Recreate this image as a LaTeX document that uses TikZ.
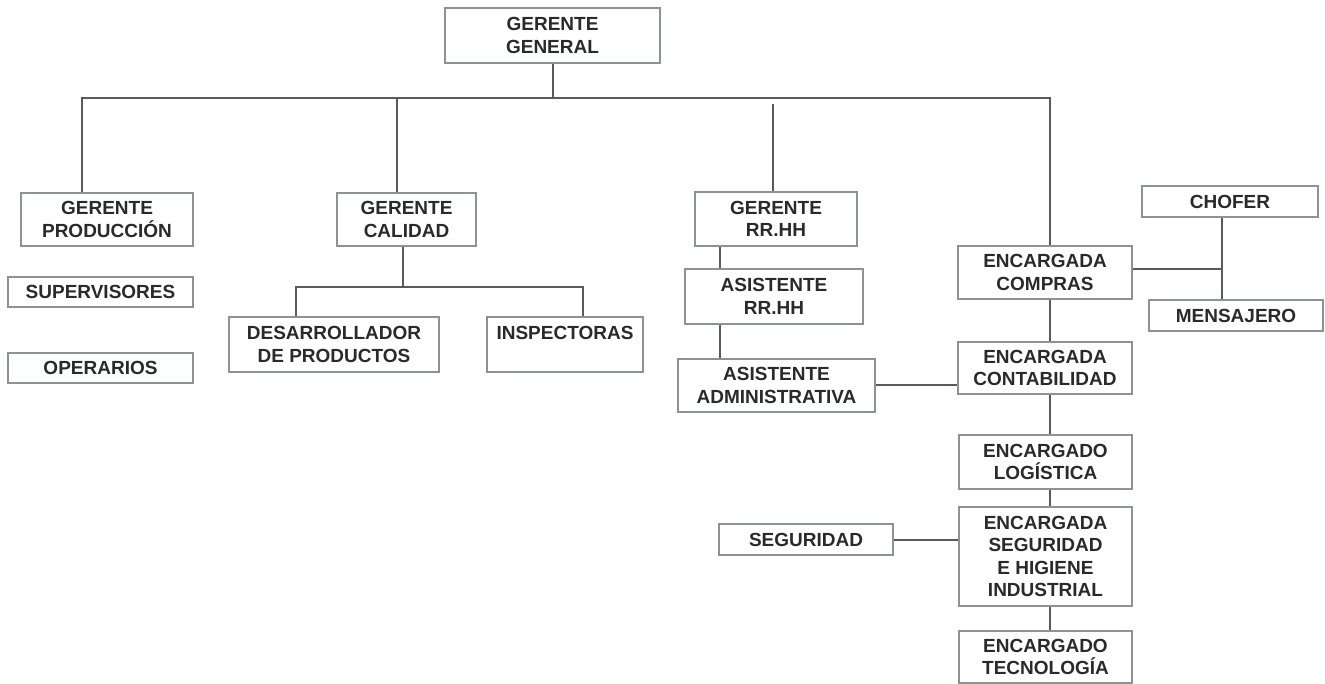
\documentclass[tikz,border=0pt]{standalone}
\usepackage{fontspec}
\setmainfont{Liberation Sans}
\usetikzlibrary{calc}
\definecolor{boxline}{HTML}{8A9496}
\definecolor{conn}{HTML}{5A5A5A}
\definecolor{txt}{HTML}{2A2A2A}
\begin{document}
\begin{tikzpicture}[x=1pt,y=-1pt,
  box/.style={draw=boxline, line width=1.6pt, fill=white, inner sep=0pt, align=center,
    text=txt, font=\fontsize{19}{22.5}\selectfont\bfseries},
  link/.style={draw=conn, line width=2pt}]
\useasboundingbox[fill=white] (0,0) rectangle (1325,684);

% nodes
\node[box, minimum width=215pt, minimum height=55pt] (gg) at (552.5,35.5) {GERENTE\\GENERAL};
\node[box, minimum width=172pt, minimum height=53pt] (gp) at (107,219.5) {GERENTE\\PRODUCCIÓN};
\node[box, minimum width=185pt, minimum height=30pt] (sup) at (100.5,292) {SUPERVISORES};
\node[box, minimum width=185pt, minimum height=30pt] (ope) at (100.5,368) {OPERARIOS};
\node[box, minimum width=139pt, minimum height=53pt] (gc) at (406.5,219.5) {GERENTE\\CALIDAD};
\node[box, minimum width=210pt, minimum height=55pt] (des) at (334,344.5) {DESARROLLADOR\\DE PRODUCTOS};
\node[box, minimum width=156pt, minimum height=55pt] (ins) at (565,344.5) {INSPECTORAS\\\phantom{X}};
\node[box, minimum width=162pt, minimum height=54pt] (grh) at (776,219) {GERENTE\\RR.HH};
\node[box, minimum width=178pt, minimum height=55pt] (arh) at (774,296.5) {ASISTENTE\\RR.HH};
\node[box, minimum width=197pt, minimum height=53pt] (aad) at (776.5,385.5) {ASISTENTE\\ADMINISTRATIVA};
\node[box, minimum width=174pt, minimum height=53pt] (com) at (1045,272.5) {ENCARGADA\\COMPRAS};
\node[box, minimum width=176pt, minimum height=31pt] (cho) at (1230,201.5) {CHOFER};
\node[box, minimum width=174pt, minimum height=31pt] (men) at (1236,315.5) {MENSAJERO};
\node[box, minimum width=174pt, minimum height=52pt] (con) at (1045,368) {ENCARGADA\\CONTABILIDAD};
\node[box, minimum width=173pt, minimum height=54pt] (log) at (1045.5,462) {ENCARGADO\\LOGÍSTICA};
\node[box, minimum width=173pt, minimum height=99pt] (seh) at (1045.5,556.5) {ENCARGADA\\SEGURIDAD\\E HIGIENE\\INDUSTRIAL};
\node[box, minimum width=174pt, minimum height=31pt] (segu) at (806,539.5) {SEGURIDAD};
\node[box, minimum width=173pt, minimum height=52pt] (tec) at (1045.5,657) {ENCARGADO\\TECNOLOGÍA};

% helper coordinates
\coordinate (busL) at (82,98);
\coordinate (busR) at (1050,98);
\coordinate (b2) at (397,98);
\coordinate (b3) at (773,104);
\coordinate (cbar) at (403,287);
\coordinate (cl) at (296,287);
\coordinate (cr) at (583,287);
\coordinate (rx) at (720,0);
\coordinate (cm) at (1222,269);

% connectors
\draw[link] (gg.south) -- (gg.south |- busL);
\draw[link] (busL |- gp.north) -- (busL) -- (busR) -- (busR |- com.north);
\draw[link] (b2) -- (b2 |- gc.north);
\draw[link] (b3) -- (b3 |- grh.north);
\draw[link] (cbar |- gc.south) -- (cbar);
\draw[link] (cl |- des.north) -- (cl) -- (cr) -- (cr |- ins.north);
\draw[link] (grh.south -| rx) -- (arh.north -| rx);
\draw[link] (arh.south -| rx) -- (aad.north -| rx);
\draw[link] (aad.east) -- (aad.east -| con.west);
\draw[link] (com.south -| busR) -- (con.north -| busR);
\draw[link] (com.east |- cm) -- (cm);
\draw[link] (cho.south -| cm) -- (men.north -| cm);
\draw[link] (con.south -| busR) -- (log.north -| busR);
\draw[link] (log.south -| busR) -- (seh.north -| busR);
\draw[link] (seh.south -| busR) -- (tec.north -| busR);
\draw[link] (segu.east) -- (segu.east -| seh.west);
\end{tikzpicture}
\end{document}
